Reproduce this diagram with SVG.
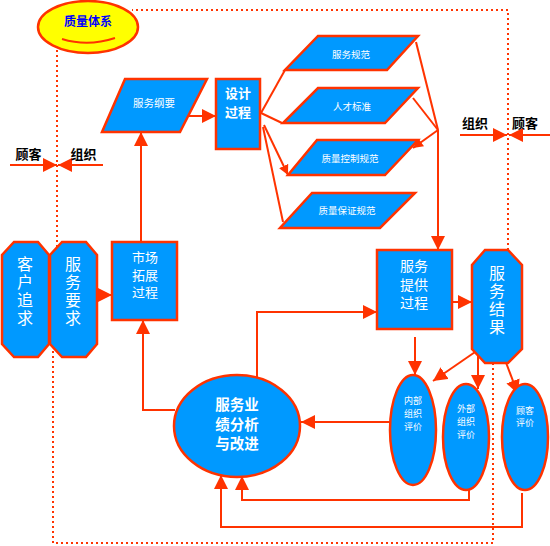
<svg xmlns="http://www.w3.org/2000/svg" width="550" height="546" viewBox="0 0 550 546">
<defs>
<marker id="ah" markerUnits="userSpaceOnUse" markerWidth="14" markerHeight="14" refX="14" refY="7" orient="auto"><path d="M0,0 L14,7 L0,14 Z" fill="#FF3300"/></marker>
<marker id="ahs" markerUnits="userSpaceOnUse" markerWidth="10" markerHeight="10" refX="10" refY="5" orient="auto"><path d="M0,0 L10,5 L0,10 Z" fill="#FF3300"/></marker>
<style>
.n{fill:#0099FF;stroke:#FF3300;stroke-width:2.5}
.c{fill:none;stroke:#FF3300;stroke-width:2}
.t{font-family:"Noto Sans CJK SC","Noto Sans",sans-serif;fill:#FFFFFF;text-anchor:middle;dominant-baseline:central}
.v{font-family:"Noto Sans CJK SC","Noto Sans",sans-serif;fill:#FFFFFF;text-anchor:middle;writing-mode:vertical-rl;font-size:16px;letter-spacing:2px}
.b{font-weight:bold}
.k{font-family:"Noto Sans CJK SC","Noto Sans",sans-serif;fill:#000000;font-weight:bold;font-size:13px;text-anchor:middle;dominant-baseline:central}
</style>
</defs>
<rect width="550" height="546" fill="#FFFFFF"/>
<path d="M57,25 V300 H53 V543 H493 V300 H508 V10 H132" fill="none" stroke="#FF3300" stroke-width="2" stroke-dasharray="2 3"/>

<g id="connectors">
<path class="c" d="M97,295 H112" marker-end="url(#ah)"/>
<path class="c" d="M141,242 V132" marker-end="url(#ah)"/>
<path class="c" d="M188,116 H216" marker-end="url(#ah)"/>
<path class="c" d="M261,113 L285,70"/>
<path class="c" d="M261,113 L282,123"/>
<path class="c" d="M264,125 L288,175" marker-end="url(#ahs)"/>
<path class="c" d="M263,127 L283,222"/>
<path class="c" d="M416,42 L438,130"/>
<path class="c" d="M413,98 L438,130"/>
<path class="c" d="M438,130 L413,148" marker-end="url(#ahs)"/>
<path class="c" d="M438,130 V250" marker-end="url(#ah)"/>
<path class="c" d="M452,302 H472" marker-end="url(#ah)"/>
<path class="c" d="M257,378 V312 H377" marker-end="url(#ah)"/>
<path class="c" d="M415,337 V375" marker-end="url(#ah)"/>
<path class="c" d="M478,350 L433,381" marker-end="url(#ah)"/>
<path class="c" d="M478,355 V389" marker-end="url(#ah)"/>
<path class="c" d="M505,360 L518,394" marker-end="url(#ah)"/>
<path class="c" d="M390,422 H301" marker-end="url(#ah)"/>
<path class="c" d="M175,410 H143 V320" marker-end="url(#ah)"/>
<path class="c" d="M469,490 V500 H242 V476" marker-end="url(#ah)"/>
<path class="c" d="M522,493 V527 H221 V475" marker-end="url(#ah)"/>
<path class="c" d="M10,165 H57" marker-end="url(#ah)"/>
<path class="c" d="M103,165 H58" marker-end="url(#ah)"/>
<path class="c" d="M460,135 H507" marker-end="url(#ah)"/>
<path class="c" d="M550,135 H509" marker-end="url(#ah)"/>
</g>

<g id="quality-system">
<ellipse cx="88" cy="27" rx="50" ry="26" fill="#FFFF00" stroke="#FF3300" stroke-width="2.5"/>
<text x="88" y="20" font-family="Noto Sans CJK SC,sans-serif" font-size="12" font-weight="bold" fill="#0000FF" text-anchor="middle" dominant-baseline="central">质量体系</text>
<path d="M62,39 Q88,47 115,38" fill="none" stroke="#FF3300" stroke-width="2"/>
</g>

<g id="labels">
<text class="k" x="28.5" y="153">顾客</text>
<text class="k" x="83.5" y="153">组织</text>
<text class="k" x="475" y="122">组织</text>
<text class="k" x="525" y="122">顾客</text>
</g>

<g id="customer-pursuit">
<path class="n" d="M14,242 H38 L49,255 V344 L38,357 H14 L2,344 V255 Z"/>
<text class="v" x="25" y="292">客户追求</text>
</g>

<g id="service-requirement">
<path class="n" d="M62,242 H86 L97,255 V344 L86,357 H62 L50,344 V255 Z"/>
<text class="v" x="73" y="292">服务要求</text>
</g>

<g id="market-process">
<rect class="n" x="112" y="242" width="65" height="78"/>
<text class="t" font-size="13"><tspan x="145" y="256">市场</tspan><tspan x="145" dy="17.5">拓展</tspan><tspan x="145" dy="17.5">过程</tspan></text>
</g>

<g id="service-outline">
<polygon class="n" points="125,79 207,79 180,132 102,132"/>
<text class="t" font-size="10.5" x="154" y="102">服务纲要</text>
</g>

<g id="design-process">
<rect class="n" x="216" y="79" width="44" height="70"/>
<text class="t b" font-size="13"><tspan x="238" y="92">设计</tspan><tspan x="238" dy="19">过程</tspan></text>
</g>

<g id="spec-service">
<polygon class="n" points="318,36 418,36 387,70 285,70"/>
<text class="t" font-size="9.5" x="351" y="54">服务规范</text>
</g>
<g id="spec-talent">
<polygon class="n" points="318,88 418,88 385,123 283,123"/>
<text class="t" font-size="9.5" x="352" y="106">人才标准</text>
</g>
<g id="spec-qc">
<polygon class="n" points="317,140 418,140 385,175 288,175"/>
<text class="t" font-size="9.5" x="350" y="158">质量控制规范</text>
</g>
<g id="spec-qa">
<polygon class="n" points="312,193 415,193 380,228 280,228"/>
<text class="t" font-size="9.5" x="347" y="210">质量保证规范</text>
</g>

<g id="service-delivery">
<rect class="n" x="377" y="250" width="75" height="79"/>
<text class="t" font-size="14"><tspan x="414" y="265">服务</tspan><tspan x="414" dy="18.5">提供</tspan><tspan x="414" dy="18.5">过程</tspan></text>
</g>

<g id="service-result">
<path class="n" d="M485,250 H508 L522,265 V349 L508,363 H485 L472,349 V265 Z"/>
<text class="v" x="497" y="301">服务结果</text>
</g>

<g id="performance-analysis">
<ellipse class="n" cx="237" cy="426" rx="63" ry="51"/>
<text class="t b" font-size="14.5"><tspan x="237" y="403">服务业</tspan><tspan x="237" dy="19.5">绩分析</tspan><tspan x="237" dy="19.5">与改进</tspan></text>
</g>

<g id="internal-eval">
<ellipse class="n" cx="413" cy="430" rx="23" ry="55"/>
<text class="t" font-size="9"><tspan x="413" y="400">内部</tspan><tspan x="413" dy="13">组织</tspan><tspan x="413" dy="13">评价</tspan></text>
</g>

<g id="external-eval">
<ellipse class="n" cx="466" cy="437" rx="23" ry="53"/>
<text class="t" font-size="9"><tspan x="466" y="408">外部</tspan><tspan x="466" dy="13">组织</tspan><tspan x="466" dy="13">评价</tspan></text>
</g>

<g id="customer-eval">
<ellipse class="n" cx="525" cy="437" rx="23" ry="53"/>
<text class="t" font-size="9"><tspan x="525" y="410">顾客</tspan><tspan x="525" dy="12">评价</tspan></text>
</g>
</svg>
